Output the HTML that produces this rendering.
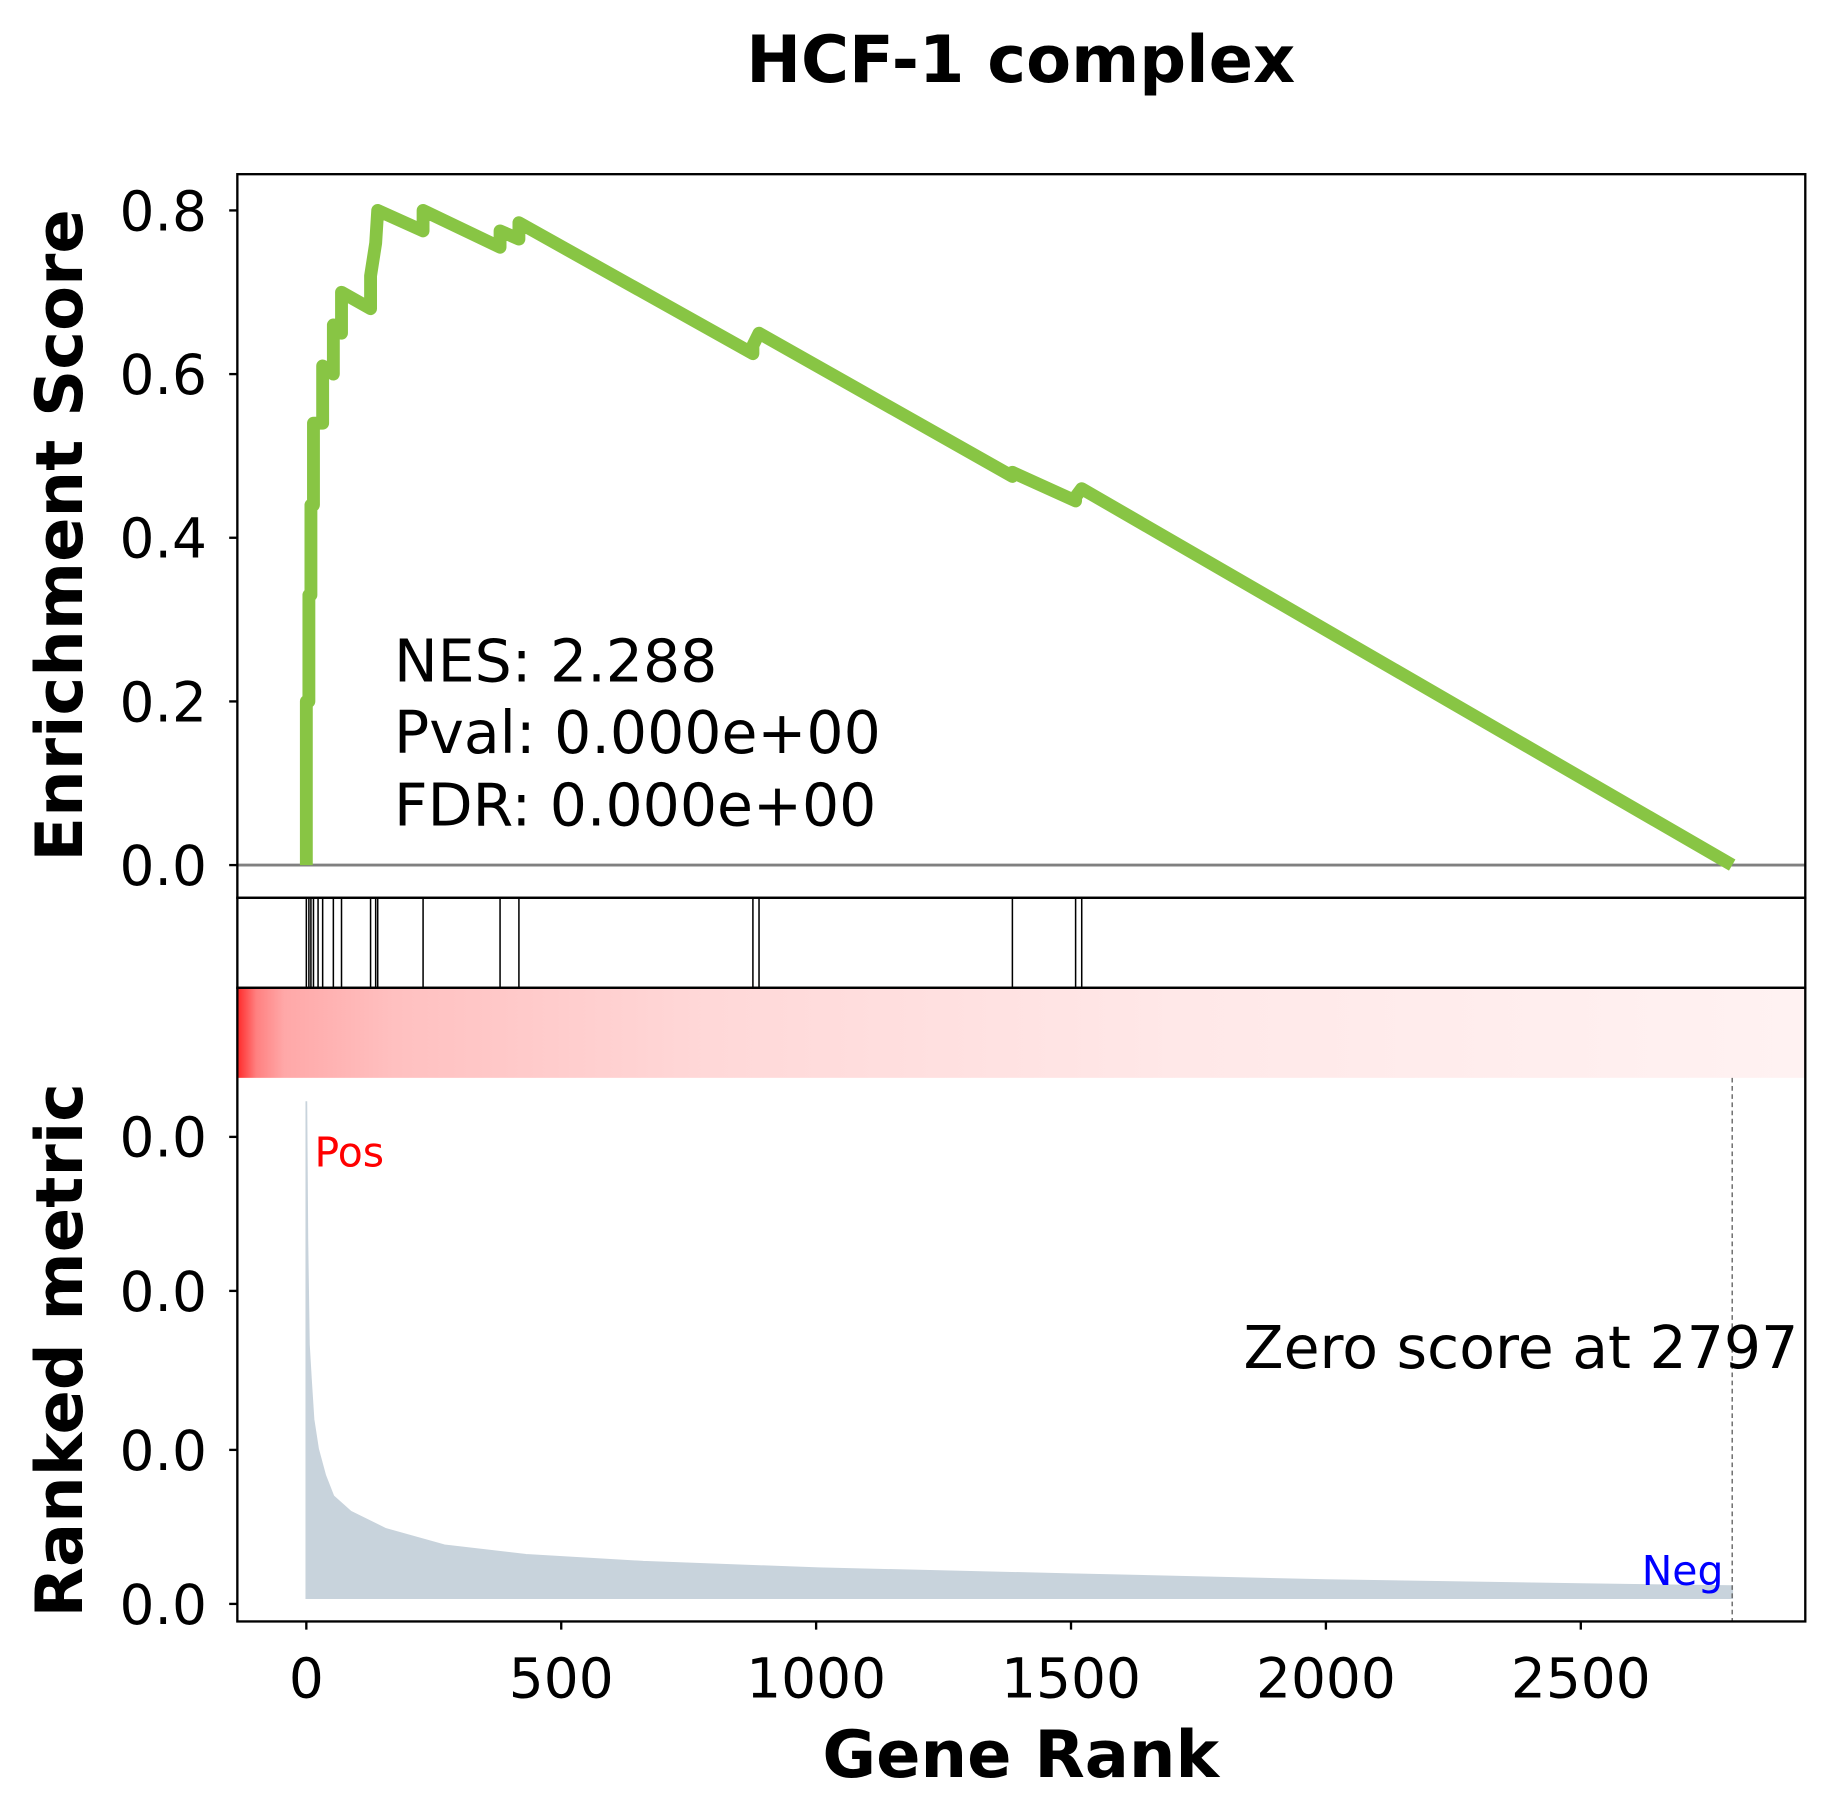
<!DOCTYPE html>
<html><head><meta charset="utf-8"><style>
html,body{margin:0;padding:0;background:#fff}
svg{display:block}
text{font-family:"DejaVu Sans","Liberation Sans",sans-serif}
</style></head><body>
<svg id="chart" width="1824" height="1812" viewBox="0 0 1560 1550" preserveAspectRatio="none" xmlns="http://www.w3.org/2000/svg">
<defs>
<linearGradient id="heat" x1="0" x2="1" y1="0" y2="0">
<stop offset="0" stop-color="#ff2a2a"/><stop offset="0.012" stop-color="#ff8080"/><stop offset="0.03" stop-color="#ffa8a8"/><stop offset="0.1" stop-color="#ffc0c0"/><stop offset="0.3" stop-color="#ffd8d8"/><stop offset="0.6" stop-color="#ffe8e8"/><stop offset="1" stop-color="#fff2f2"/>
</linearGradient>
</defs>
<text x="873" y="70" text-anchor="middle" font-size="56" font-weight="bold">HCF-1 complex</text>
<g id="es"></g>
<g id="hits"></g>
<rect x="203" y="845" width="1341" height="77" fill="url(#heat)"/>
<g id="metric"></g>
<g id="frames" fill="none" stroke="#000" stroke-width="2">
<rect x="203" y="149" width="1341" height="619"/>
<rect x="203" y="768" width="1341" height="77"/>
<rect x="203" y="845" width="1341" height="542"/>
</g>
<text transform="translate(70,458) rotate(-90)" text-anchor="middle" font-size="56" font-weight="bold">Enrichment Score</text>
<text transform="translate(70,1155) rotate(-90)" text-anchor="middle" font-size="56" font-weight="bold">Ranked metric</text>
<text x="873" y="1520" text-anchor="middle" font-size="56" font-weight="bold">Gene Rank</text>
<g font-size="50">
<text x="337" y="583">NES: 2.288</text>
<text x="337" y="644">Pval: 0.000e+00</text>
<text x="337" y="706">FDR: 0.000e+00</text>
</g>
<text x="1538" y="1170" text-anchor="end" font-size="50">Zero score at 2797</text>
<text x="269" y="998" font-size="35" fill="#ff0000">Pos</text>
<text x="1474" y="1356" text-anchor="end" font-size="35" fill="#0000ff">Neg</text>
</svg>
<script>
const xTicks=[0,500,1000,1500,2000,2500];
const esTicks=[0,0.2,0.4,0.6,0.8];
const hitRanks=[0,5,9,14,23,32,53,69,126,136,140,229,380,417,876,888,1385,1509,1521];
const esRanks=[0,0,5,5,9,9,14,14,23,23,32,32,53,53,69,69,126,126,136,140,229,229,380,380,417,417,876,876,888,1385,1385,1509,1509,1521,2797];
const esValues=[0,0.2,0.2,0.33,0.33,0.44,0.44,0.54,0.54,0.54,0.54,0.61,0.6,0.66,0.65,0.70,0.68,0.72,0.76,0.80,0.775,0.80,0.755,0.775,0.765,0.785,0.625,0.635,0.65,0.475,0.48,0.445,0.45,0.46,0];
const metricRanks=[0,2,5,9,14,23,37,53,87,156,271,431,661,1005,1500,2000,2500,2797];
const metricValues=[1.0,0.72,0.51,0.44,0.36,0.30,0.247,0.205,0.174,0.139,0.106,0.087,0.073,0.06,0.048,0.036,0.028,0.024];
const metricTickLabels=["0.0","0.0","0.0","0.0"];
const metricTickVals=[0.0,0.31,0.63,0.94];
const zeroRank=2797;

const NS="http://www.w3.org/2000/svg";
const X=r=>262+r*0.436;
const YE=v=>740-v*700;
const YM=v=>1367-v*425;
function mk(tag,attrs,parent){const e=document.createElementNS(NS,tag);for(const k in attrs)e.setAttribute(k,attrs[k]);parent.appendChild(e);return e;}
const es=document.getElementById('es'),hits=document.getElementById('hits'),met=document.getElementById('metric');

const zl=mk('line',{x1:203,x2:1544,y1:YE(0),y2:YE(0),stroke:'#808080','stroke-width':2.5},es);


const esPath=mk('polyline',{points:esRanks.map((r,i)=>X(r)+','+YE(esValues[i])).join(' '),fill:'none',stroke:'#88c544','stroke-width':11,'stroke-linejoin':'round'},es);


esTicks.forEach(v=>{
  const t=mk('line',{x1:196,x2:203,y1:YE(v),y2:YE(v),stroke:'#000','stroke-width':2},es);
  
  
  const l=mk('text',{x:177,y:YE(v)+17,'text-anchor':'end','font-size':47},es);
  
  
  l.textContent=v.toFixed(1);
});
hitRanks.forEach(r=>{
  const h=mk('line',{x1:X(r),x2:X(r),y1:768,y2:845,stroke:'#000','stroke-width':1.3},hits);
  
  
});
let pts=X(0)+','+YM(0)+' '+metricRanks.map((r,i)=>X(r)+','+YM(metricValues[i])).join(' ')+' '+X(metricRanks[metricRanks.length-1])+','+YM(0);
const area=mk('polygon',{points:pts,fill:'#c8d3dc',stroke:'#c8d3dc','stroke-width':1.5},met);


const zd=mk('line',{x1:X(zeroRank),x2:X(zeroRank),y1:922,y2:1387,stroke:'#666','stroke-width':1.2,'stroke-dasharray':'4,3'},met);


metricTickVals.forEach((v,i)=>{
  const y=YM(v)+5;
  const t=mk('line',{x1:196,x2:203,y1:y,y2:y,stroke:'#000','stroke-width':2},met);
  
  
  const l=mk('text',{x:177,y:y+17,'text-anchor':'end','font-size':47},met);
  
  
  l.textContent=metricTickLabels[i];
});
xTicks.forEach(v=>{
  const t=mk('line',{x1:X(v),x2:X(v),y1:1387,y2:1394,stroke:'#000','stroke-width':2},met);
  
  
  const l=mk('text',{x:X(v),y:1452,'text-anchor':'middle','font-size':47},met);
  
  
  l.textContent=v;
});
</script>
</body></html>
